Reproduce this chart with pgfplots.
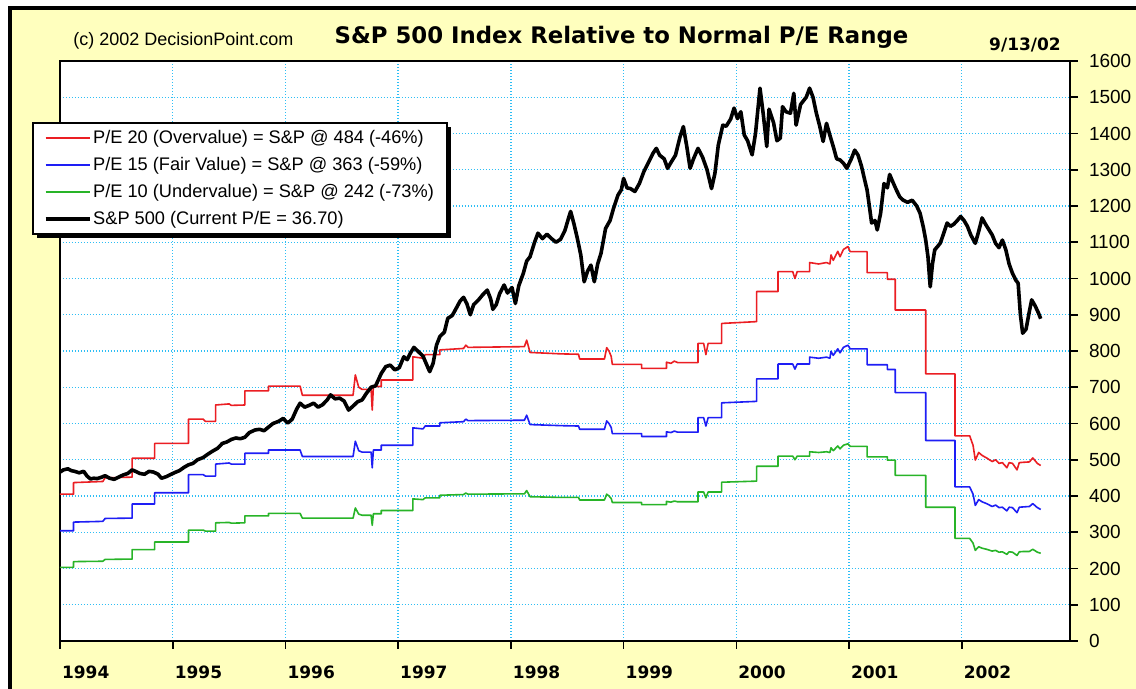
\documentclass[border=0pt]{standalone}
\usepackage{pgfplots}
\pgfplotsset{compat=1.18}
\usepackage{pgfplotstable}
\usepackage{fontspec}
\setmainfont{Liberation Sans}
\newfontfamily\dejavu{DejaVu Sans}
\usetikzlibrary{shadows}
\definecolor{cream}{RGB}{255,255,190}
\definecolor{gridblue}{RGB}{45,190,245}
\definecolor{pered}{RGB}{235,30,35}
\definecolor{peblue}{RGB}{30,30,245}
\definecolor{pegreen}{RGB}{40,180,40}

\newcommand{\legline}[2]{\pgfsetstrokecolor{#1}\pgfsetlinewidth{#2}\pgfpathmoveto{\pgfpoint{0pt}{0pt}}\pgfpathlineto{\pgfpoint{22pt}{0pt}}\pgfusepath{stroke}}

\pgfplotstableread{
x y
1994.00 405
1994.12 405
1994.12 437
1994.38 440
1994.40 450
1994.64 452
1994.64 504
1994.84 504
1994.84 545
1995.14 545
1995.14 612
1995.27 612
1995.29 606
1995.38 606
1995.38 651
1995.50 654
1995.52 650
1995.64 651
1995.64 690
1995.85 690
1995.85 703
1996.13 703
1996.15 678
1996.60 678
1996.62 734
1996.65 700
1996.68 694
1996.76 694
1996.77 637
1996.78 702
1996.85 702
1996.85 720
1997.13 720
1997.13 784
1997.22 780
1997.24 790
1997.37 790
1997.37 803
1997.58 807
1997.60 816
1997.62 810
1998.12 812
1998.14 830
1998.17 796
1998.45 792
1998.60 791
1998.61 778
1998.83 778
1998.85 809
1998.87 800
1998.89 785
1998.90 763
1999.16 763
1999.16 752
1999.38 752
1999.38 769
1999.42 766
1999.45 772
1999.48 768
1999.66 768
1999.66 821
1999.71 821
1999.73 790
1999.75 821
1999.87 821
1999.87 876
2000.18 881
2000.18 964
2000.37 964
2000.37 1019
2000.50 1019
2000.52 1000
2000.54 1019
2000.65 1019
2000.65 1044
2000.73 1040
2000.80 1044
2000.83 1040
2000.84 1065
2000.86 1050
2000.90 1075
2000.92 1060
2000.95 1080
2000.99 1088
2001.01 1074
2001.16 1074
2001.16 1016
2001.34 1016
2001.34 998
2001.41 998
2001.41 913
2001.68 913
2001.68 737
2001.94 737
2001.94 566
2002.07 566
2002.10 540
2002.12 499
2002.15 520
2002.18 512
2002.22 505
2002.27 495
2002.30 500
2002.33 490
2002.36 492
2002.40 478
2002.42 492
2002.45 490
2002.49 472
2002.51 492
2002.55 493
2002.60 494
2002.63 505
2002.67 490
2002.70 484
}\redtab

\pgfplotstableread{
x y
1994.00 304
1994.12 304
1994.12 328
1994.38 330
1994.40 338
1994.64 339
1994.64 378
1994.84 378
1994.84 409
1995.14 409
1995.14 459
1995.27 459
1995.29 455
1995.38 455
1995.38 488
1995.50 491
1995.52 488
1995.64 488
1995.64 518
1995.85 518
1995.85 527
1996.13 527
1996.15 509
1996.60 509
1996.62 551
1996.65 525
1996.68 521
1996.76 521
1996.77 478
1996.78 527
1996.85 527
1996.85 540
1997.13 540
1997.13 588
1997.22 585
1997.24 593
1997.37 593
1997.37 602
1997.58 605
1997.60 612
1997.62 608
1998.12 609
1998.14 623
1998.17 597
1998.45 594
1998.60 593
1998.61 584
1998.83 584
1998.85 607
1998.87 600
1998.89 589
1998.90 572
1999.16 572
1999.16 564
1999.38 564
1999.38 577
1999.42 575
1999.45 579
1999.48 576
1999.66 576
1999.66 616
1999.71 616
1999.73 593
1999.75 616
1999.87 616
1999.87 657
2000.18 661
2000.18 723
2000.37 723
2000.37 764
2000.50 764
2000.52 750
2000.54 764
2000.65 764
2000.65 783
2000.73 780
2000.80 783
2000.83 780
2000.84 799
2000.86 788
2000.90 806
2000.92 795
2000.95 810
2000.99 816
2001.01 806
2001.16 806
2001.16 762
2001.34 762
2001.34 749
2001.41 749
2001.41 685
2001.68 685
2001.68 553
2001.94 553
2001.94 425
2002.07 425
2002.10 405
2002.12 374
2002.15 390
2002.18 384
2002.22 379
2002.27 371
2002.30 375
2002.33 368
2002.36 369
2002.40 359
2002.42 369
2002.45 368
2002.49 354
2002.51 369
2002.55 370
2002.60 371
2002.63 379
2002.67 368
2002.70 363
}\bluetab

\pgfplotstableread{
x y
1994.00 203
1994.12 203
1994.12 219
1994.38 220
1994.40 225
1994.64 226
1994.64 252
1994.84 252
1994.84 273
1995.14 273
1995.14 306
1995.27 306
1995.29 303
1995.38 303
1995.38 326
1995.50 327
1995.52 325
1995.64 326
1995.64 345
1995.85 345
1995.85 352
1996.13 352
1996.15 339
1996.60 339
1996.62 367
1996.65 350
1996.68 347
1996.76 347
1996.77 319
1996.78 351
1996.85 351
1996.85 360
1997.13 360
1997.13 392
1997.22 390
1997.24 395
1997.37 395
1997.37 402
1997.58 404
1997.60 408
1997.62 405
1998.12 406
1998.14 415
1998.17 398
1998.45 396
1998.60 396
1998.61 389
1998.83 389
1998.85 405
1998.87 400
1998.89 393
1998.90 382
1999.16 382
1999.16 376
1999.38 376
1999.38 385
1999.42 383
1999.45 386
1999.48 384
1999.66 384
1999.66 411
1999.71 411
1999.73 395
1999.75 411
1999.87 411
1999.87 438
2000.18 441
2000.18 482
2000.37 482
2000.37 510
2000.50 510
2000.52 500
2000.54 510
2000.65 510
2000.65 522
2000.73 520
2000.80 522
2000.83 520
2000.84 533
2000.86 525
2000.90 538
2000.92 530
2000.95 540
2000.99 544
2001.01 537
2001.16 537
2001.16 508
2001.34 508
2001.34 499
2001.41 499
2001.41 457
2001.68 457
2001.68 369
2001.94 369
2001.94 283
2002.07 283
2002.10 270
2002.12 250
2002.15 260
2002.18 256
2002.22 253
2002.27 248
2002.30 250
2002.33 245
2002.36 246
2002.40 239
2002.42 246
2002.45 245
2002.49 236
2002.51 246
2002.55 247
2002.60 247
2002.63 253
2002.67 245
2002.70 242
}\greentab

\pgfplotstableread{
x y
1994.00 466
1994.03 472
1994.07 475
1994.10 470
1994.13 468
1994.17 464
1994.21 468
1994.24 455
1994.27 447
1994.30 449
1994.33 448
1994.37 452
1994.40 456
1994.44 449
1994.48 446
1994.52 452
1994.56 458
1994.60 462
1994.64 472
1994.67 468
1994.71 462
1994.75 460
1994.79 468
1994.83 466
1994.87 460
1994.90 449
1994.94 453
1994.98 459
1995.02 465
1995.06 470
1995.10 479
1995.14 486
1995.18 490
1995.22 500
1995.27 506
1995.31 515
1995.35 523
1995.40 532
1995.44 545
1995.48 549
1995.52 556
1995.56 560
1995.60 558
1995.64 562
1995.68 575
1995.73 582
1995.77 584
1995.81 580
1995.85 590
1995.89 600
1995.94 606
1995.98 614
1996.02 601
1996.06 612
1996.10 640
1996.13 656
1996.17 645
1996.21 650
1996.25 656
1996.29 645
1996.33 652
1996.37 665
1996.40 679
1996.44 668
1996.48 670
1996.52 662
1996.56 637
1996.60 648
1996.64 660
1996.68 665
1996.72 684
1996.76 700
1996.80 704
1996.85 738
1996.89 757
1996.93 761
1996.97 748
1997.01 754
1997.05 784
1997.08 776
1997.11 795
1997.14 810
1997.18 798
1997.22 786
1997.26 757
1997.28 743
1997.31 766
1997.34 816
1997.37 840
1997.41 852
1997.44 890
1997.48 898
1997.51 915
1997.55 938
1997.58 948
1997.61 930
1997.64 900
1997.67 928
1997.71 940
1997.75 955
1997.79 968
1997.82 944
1997.84 915
1997.87 928
1997.90 958
1997.94 982
1997.97 960
1998.01 975
1998.04 931
1998.07 980
1998.11 1014
1998.14 1048
1998.17 1060
1998.21 1100
1998.24 1125
1998.28 1110
1998.32 1122
1998.36 1110
1998.40 1100
1998.44 1108
1998.48 1133
1998.51 1165
1998.53 1185
1998.56 1150
1998.59 1110
1998.62 1065
1998.65 991
1998.68 1020
1998.71 1037
1998.74 991
1998.77 1040
1998.80 1070
1998.84 1138
1998.88 1160
1998.91 1193
1998.95 1230
1998.98 1245
1999.00 1276
1999.03 1250
1999.06 1248
1999.10 1240
1999.14 1262
1999.18 1295
1999.22 1320
1999.26 1345
1999.29 1359
1999.32 1340
1999.36 1330
1999.39 1304
1999.42 1320
1999.46 1340
1999.50 1390
1999.53 1419
1999.56 1365
1999.59 1304
1999.62 1330
1999.66 1359
1999.70 1335
1999.74 1300
1999.78 1248
1999.81 1290
1999.84 1368
1999.88 1423
1999.91 1420
1999.95 1440
1999.98 1470
2000.01 1441
2000.04 1460
2000.07 1396
2000.10 1380
2000.14 1341
2000.17 1400
2000.21 1525
2000.24 1450
2000.27 1364
2000.29 1467
2000.33 1430
2000.36 1380
2000.39 1387
2000.41 1474
2000.44 1460
2000.48 1456
2000.51 1511
2000.53 1423
2000.57 1480
2000.62 1500
2000.65 1525
2000.68 1500
2000.71 1456
2000.74 1420
2000.77 1378
2000.80 1428
2000.83 1395
2000.86 1364
2000.89 1330
2000.92 1327
2000.95 1318
2000.98 1304
2001.02 1330
2001.05 1354
2001.08 1340
2001.11 1310
2001.14 1270
2001.16 1244
2001.18 1200
2001.20 1153
2001.23 1160
2001.25 1134
2001.28 1180
2001.31 1262
2001.34 1250
2001.36 1287
2001.39 1265
2001.42 1244
2001.45 1225
2001.48 1216
2001.52 1210
2001.56 1216
2001.60 1200
2001.63 1180
2001.66 1140
2001.68 1106
2001.70 1060
2001.72 977
2001.74 1040
2001.76 1079
2001.79 1090
2001.81 1098
2001.84 1125
2001.87 1153
2001.90 1144
2001.93 1150
2001.96 1160
2001.99 1171
2002.02 1160
2002.05 1144
2002.08 1120
2002.12 1097
2002.15 1130
2002.18 1167
2002.21 1150
2002.24 1135
2002.27 1120
2002.30 1097
2002.33 1085
2002.36 1106
2002.39 1080
2002.42 1040
2002.45 1014
2002.48 995
2002.50 987
2002.52 900
2002.54 849
2002.57 860
2002.60 910
2002.62 941
2002.65 925
2002.68 905
2002.70 889
}\sptab

\begin{document}
\begin{tikzpicture}
\useasboundingbox (0,0) rectangle (568pt,344.5pt);
\fill[white] (0,0) rectangle (568pt,344.5pt);
\fill[cream] (5pt,0) rectangle (568pt,340.5pt);
\draw[line width=2pt] (5pt,-2pt) -- (5pt,340.5pt) -- (570pt,340.5pt);
\begin{axis}[
  at={(30pt,24pt)}, anchor=south west,
  scale only axis, width=505pt, height=290pt,
  xmin=1994, xmax=2002.96, ymin=0, ymax=1600,
  xtick={1994,1995,1996,1997,1998,1999,2000,2001,2002},
  xticklabels={1994,1995,1996,1997,1998,1999,2000,2001,2002},
  ytick={0,100,...,1600},
  grid=major,
  major grid style={gridblue, line width=0.7pt, dash pattern=on 0.7pt off 0.8pt},
  axis line style={black, line width=1pt},
  tick style={black, line width=0.8pt},
  xtick pos=bottom, ytick pos=right, yticklabel pos=right,
  tick align=outside, major tick length=4pt,
  xticklabel style={font=\dejavu\bfseries\fontsize{8.5}{9}\selectfont, anchor=north west, xshift=-2.5pt, yshift=-5pt},
  yticklabel style={font=\fontsize{9.5}{10}\selectfont, xshift=2pt},
  /pgf/number format/assume math mode=true,
  /pgf/number format/1000 sep={},
  axis background/.style={fill=white},
  legend cell align=left,
  legend style={at={(-0.0277,0.8948)}, anchor=north west, draw=black, line width=1pt, fill=white,
    drop shadow={shadow xshift=2pt, shadow yshift=-2pt, fill=black, opacity=1},
    font=\fontsize{9.1}{10}\selectfont, inner xsep=5.5pt, inner ysep=2pt, row sep=2.5pt,
    nodes={inner sep=1pt, text height=7pt, text depth=2pt}},
]
\addplot[pered, line width=0.8pt, line join=round, legend image code/.code={\legline{pered}{0.8pt}}] table[x=x,y=y] {\redtab};
\addlegendentry{P/E 20 (Overvalue) = S\&P @ 484 (-46\%)}
\addplot[peblue, line width=0.8pt, line join=round, legend image code/.code={\legline{peblue}{0.8pt}}] table[x=x,y=y] {\bluetab};
\addlegendentry{P/E 15 (Fair Value) = S\&P @ 363 (-59\%)}
\addplot[pegreen, line width=0.8pt, line join=round, legend image code/.code={\legline{pegreen}{0.8pt}}] table[x=x,y=y] {\greentab};
\addlegendentry{P/E 10 (Undervalue) = S\&P @ 242 (-73\%)}
\addplot[black, line width=1.8pt, line join=round, legend image code/.code={\legline{black}{1.6pt}}] table[x=x,y=y] {\sptab};
\addlegendentry{S\&P 500 (Current P/E = 36.70)}
\end{axis}
\node[font=\dejavu\bfseries\fontsize{11.4}{13}\selectfont] at (310.75pt,325.75pt) {S\&P 500 Index Relative to Normal P/E Range};
\node[anchor=west, inner sep=0pt, font=\fontsize{9}{10}\selectfont] at (36.5pt,324.25pt) {(c) 2002 DecisionPoint.com};
\node[font=\dejavu\bfseries\fontsize{8.5}{9}\selectfont] at (512.5pt,322.25pt) {9/13/02};
\end{tikzpicture}
\end{document}
